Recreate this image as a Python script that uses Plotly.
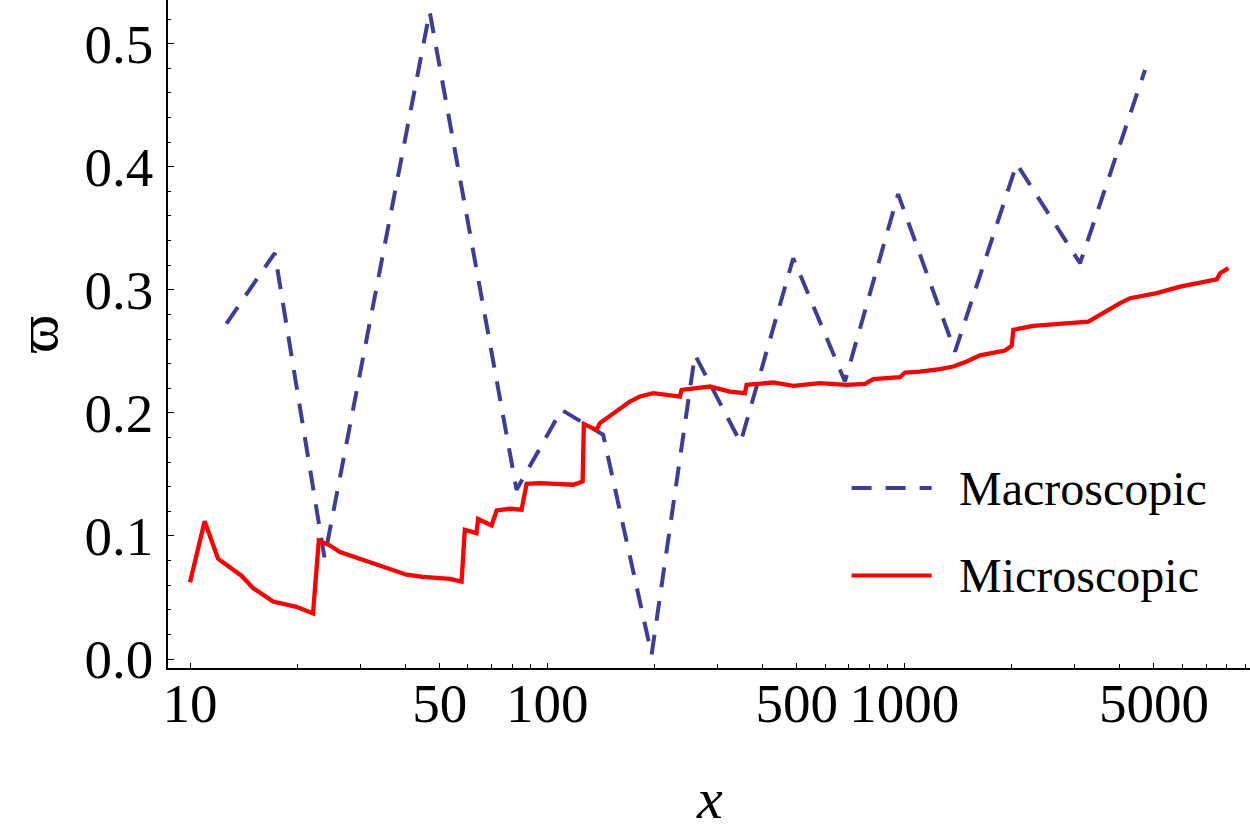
"""Macroscopic vs microscopic mean omega against x (log axis), Mathematica-style."""

import plotly.graph_objects as go

# Macroscopic (dashed, blue) vertices
MACRO_X = [12.65, 17.27, 23.8, 46.9, 82.1, 109.7, 143.5, 196.1, 259.3, 348,
           488.7, 682, 961, 1387, 2064, 3106, 4722]
MACRO_Y = [0.2726, 0.3299, 0.0823, 0.526, 0.1375, 0.2025, 0.1822, 0.0035, 0.2472,
           0.1759, 0.3257, 0.2255, 0.3778, 0.2498, 0.4023, 0.3216, 0.4788]

# Microscopic (solid, red) trace
MICRO_X = [10, 10.99, 11.98, 13.93, 15.02, 17.08, 19.87, 22.1, 22.94, 24.6,
           26.3, 31.2, 36.3, 40.4, 44.9, 53.4, 57.6, 58.8, 63.4, 64.1,
           69.9, 72.2, 78.6, 84.8, 87.6, 95.4, 118.3, 125.7, 126.7, 137.5,
           140.5, 153, 170.5, 181.9, 198.2, 235.4, 237.9, 285.6, 325, 357.9,
           361.8, 429.5, 488.7, 580.5, 689.7, 776.3, 818.9, 972.7, 1004.6, 1106.5,
           1259, 1372, 1496, 1629, 1914, 1999, 2020, 2298, 2729, 3277,
           4020, 4286, 5093, 5922, 7499, 7661, 8083]
MICRO_Y = [0.0623, 0.112, 0.0815, 0.0677, 0.0576, 0.0467, 0.0424, 0.0370, 0.0961, 0.0924,
           0.087, 0.0794, 0.0732, 0.0685, 0.0667, 0.0652, 0.063, 0.105, 0.1023, 0.1137,
           0.1085, 0.1207, 0.1221, 0.1213, 0.1424, 0.1430, 0.1416, 0.1443, 0.1909, 0.1862,
           0.1917, 0.1998, 0.2092, 0.2133, 0.2160, 0.2133, 0.2187, 0.2214, 0.2173, 0.2160,
           0.2228, 0.2247, 0.2220, 0.2242, 0.2228, 0.2236, 0.2274, 0.2290, 0.2328, 0.2336,
           0.2355, 0.2377, 0.2417, 0.2467, 0.2507, 0.2545, 0.2675, 0.2707, 0.2721, 0.2742,
           0.2892, 0.2932, 0.2973, 0.3026, 0.3086, 0.3135, 0.3176]

X_TICKS = [10, 50, 100, 500, 1000, 5000]
X_MINOR = [20, 30, 40, 60, 70, 80, 90, 200, 300, 400, 600, 700, 800, 900,
           2000, 3000, 4000, 6000, 7000, 8000, 9000]

BLUE = "rgb(62,62,152)"
RED = "rgb(255,0,0)"
SERIF = "Liberation Serif, DejaVu Serif, serif"
DASH = "20px,14px"

fig = go.Figure()
fig.add_scatter(x=MACRO_X, y=MACRO_Y, mode="lines", name="Macroscopic",
                line=dict(color=BLUE, width=4, dash=DASH))
fig.add_scatter(x=MICRO_X, y=MICRO_Y, mode="lines", name="Microscopic",
                line=dict(color=RED, width=4.3))

axis_common = dict(
    showgrid=False, zeroline=False, showline=True, linecolor="black", linewidth=1.5,
    ticks="inside", tickcolor="black", tickwidth=1.2, mirror=False, automargin=False,
    tickfont=dict(family=SERIF, size=55, color="black"),
)
fig.update_xaxes(
    type="log", range=[0.9384, 3.968],
    tickvals=X_TICKS, ticktext=[str(v) for v in X_TICKS], ticklen=5,
    ticklabelstandoff=-14,
    minor=dict(tickvals=X_MINOR, ticks="inside", ticklen=4, tickcolor="black", tickwidth=1),
    **axis_common,
)
fig.update_yaxes(
    range=[-0.0073, 0.5355], dtick=0.1, tick0=0, tickformat=".1f", ticklen=6,
    ticklabelstandoff=2,
    minor=dict(dtick=0.02, ticks="inside", ticklen=3, tickcolor="black", tickwidth=1),
    **axis_common,
)

# hand-drawn legend to match the long line samples of the original
legend_rows = [("Macroscopic", BLUE, DASH, 0.2693), ("Microscopic", RED, "solid", 0.1386)]
for label, color, dash, yp in legend_rows:
    fig.add_shape(type="line", xref="paper", yref="paper", x0=0.6318, x1=0.7058,
                  y0=yp, y1=yp, line=dict(color=color, width=4, dash=dash))
    fig.add_annotation(xref="paper", yref="paper", x=0.7289, y=yp, text=label,
                       showarrow=False, xanchor="left", yanchor="middle",
                       font=dict(family=SERIF, size=48, color="black"))

fig.add_annotation(xref="paper", yref="paper", x=-0.121, y=0.5, text="ϖ",
                   textangle=-90, showarrow=False, xanchor="center", yanchor="middle",
                   font=dict(family=SERIF, size=58, color="black"))
fig.add_annotation(xref="paper", yref="paper", x=0.5, y=-0.195, text="<i>x</i>",
                   showarrow=False, xanchor="center", yanchor="middle",
                   font=dict(family=SERIF, size=58, color="black"))

fig.update_layout(
    width=1250, height=831, showlegend=False,
    paper_bgcolor="white", plot_bgcolor="white",
    margin=dict(l=168, r=0, t=0, b=163, autoexpand=False),
)

# the page body has a default 8px margin; drop it so the figure sits at the corner
fig.write_html("out.html", config={"displayModeBar": False},
               post_script="document.body.style.margin='0';")
